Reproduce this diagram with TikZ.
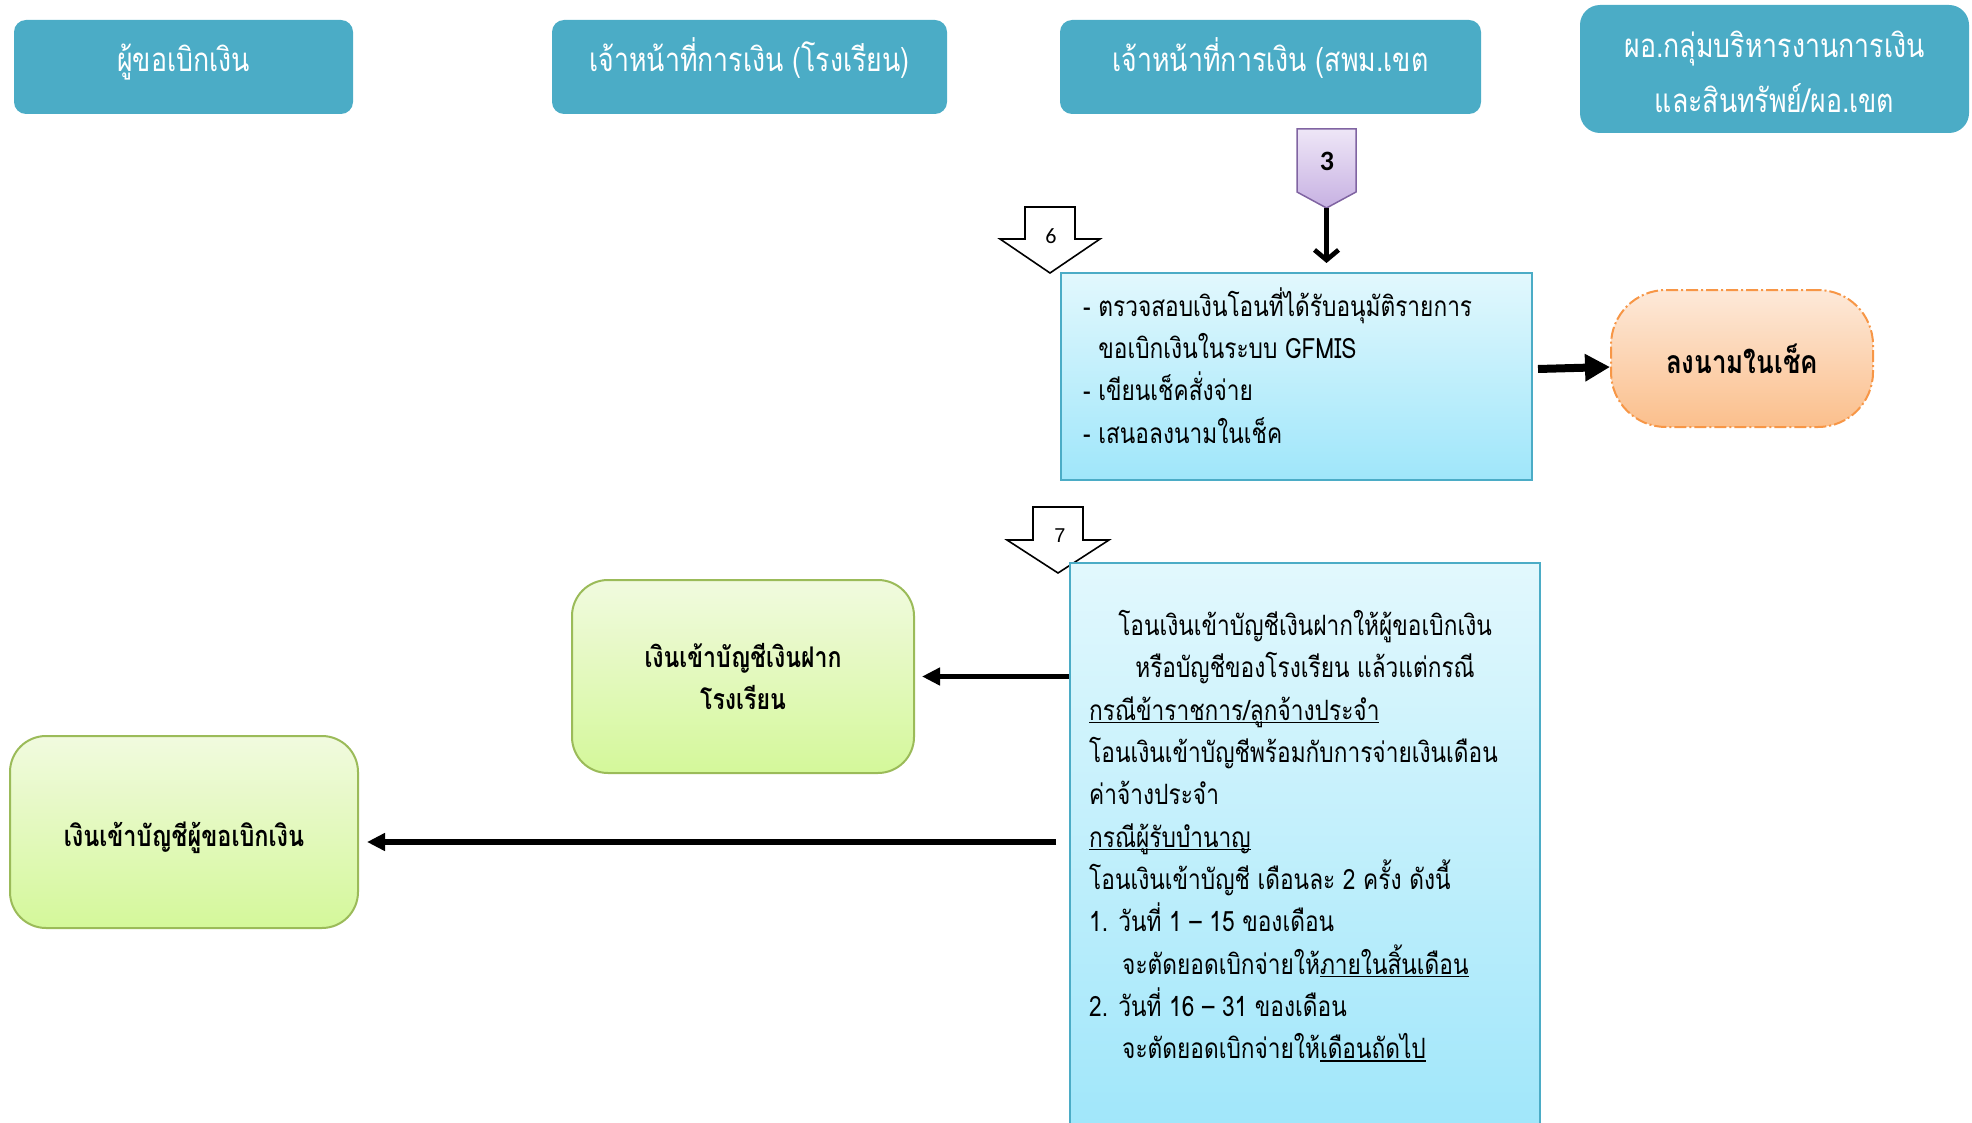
\documentclass[tikz,border=0pt]{standalone}
\usepackage{fontspec}
\usetikzlibrary{arrows.meta}
\newfontfamily\thai[Script=Thai,FakeStretch=0.81]{Loma}
\newfontfamily\numfont{Carlito}
\newfontfamily\arialfont{Liberation Sans}
\definecolor{hdr}{HTML}{4BACC6}
\definecolor{bluetop}{HTML}{E2F8FD}
\definecolor{bluebot}{HTML}{9FE6FA}
\definecolor{bluebd}{HTML}{4BACC6}
\definecolor{orgtop}{HTML}{FDE9D9}
\definecolor{orgbot}{HTML}{FBBF8C}
\definecolor{orgbd}{HTML}{F79646}
\definecolor{grntop}{HTML}{F1FADF}
\definecolor{grnbot}{HTML}{D4F89A}
\definecolor{grnbd}{HTML}{9BBB59}
\definecolor{lavtop}{HTML}{EEE6F7}
\definecolor{lavbot}{HTML}{C7B1E2}
\definecolor{lavbd}{HTML}{8064A2}
\newcommand\thaiul[1]{\setbox0=\hbox{#1}\rlap{\rule[-3pt]{\wd0}{1.4pt}}\box0}
\newcommand\tstrut{\rule{0pt}{30pt}}
\begin{document}
\begin{tikzpicture}[x=1pt,y=-1pt,
  hdrbox/.style={fill=hdr, rounded corners=12pt, minimum height=94pt, inner sep=0pt,
    text=white, font=\thai\fontsize{33}{40}\selectfont, text height=16pt, text depth=6pt},
  bluebox/.style={draw=bluebd, line width=2pt, top color=bluetop, bottom color=bluebot, inner sep=0pt},
  grnbox/.style={draw=grnbd, line width=2pt, top color=grntop, bottom color=grnbot, inner sep=0pt, rounded corners=36pt},
  orgbox/.style={draw=orgbd, line width=2pt, top color=orgtop, bottom color=orgbot, inner sep=0pt,
    rounded corners=55pt, dash pattern=on 12pt off 3pt on 2pt off 3pt},
  bodytext/.style={inner sep=0pt, font=\thai\fontsize{28}{42.3}\selectfont, text=black},
  boldtext/.style={inner sep=0pt, font=\thai\bfseries\fontsize{28.5}{42}\selectfont, text=black},
  blockarrow/.style={fill=white, draw=black, line width=1.6pt, line join=miter},
  flowarrow/.style={draw=black, line width=5.5pt, -{Triangle[length=18pt,width=17pt]}},
]
\useasboundingbox (0,0) rectangle (1972,1123);
\clip (0,0) rectangle (1972,1123);

% headers
\node[hdrbox, minimum width=339pt] (h1) at (183.5,67) {ผู้ขอเบิกเงิน};
\node[hdrbox, minimum width=395pt] (h2) at (749.5,67) {เจ้าหน้าที่การเงิน (โรงเรียน)};
\node[hdrbox, minimum width=421pt] (h3) at (1270.5,67) {เจ้าหน้าที่การเงิน (สพม.เขต};
\node[hdrbox, minimum width=389pt, minimum height=128pt, rounded corners=20pt, text height=, text depth=] (h4) at (1774.5,69) {};
\node[inner sep=0pt, anchor=north, align=center, text=white, font=\thai\fontsize{33}{55}\selectfont] (h4t) at (1774.5,27)
  {\tstrut ผอ.กลุ่มบริหารงานการเงิน\\และสินทรัพย์/ผอ.เขต};

% step 3 marker
\path[draw=lavbd, line width=1.5pt, top color=lavtop, bottom color=lavbot]
  (1297,129) -- (1356,129) -- (1356,192) -- (1326.5,208) -- (1297,192) -- cycle;
\node[inner sep=0pt, font=\numfont\bfseries\fontsize{28}{30}\selectfont] (n3) at (1327,161) {3};
\coordinate (p3tip) at (1326.5,208);

% block arrow 6
\path[blockarrow] (1025,207) -- (1075,207) -- (1075,239) -- (1100,239) -- (1050,273) -- (1000,239) -- (1025,239) -- cycle;
\node[inner sep=0pt, font=\numfont\fontsize{22}{24}\selectfont] (n6) at (1051,236) {6};

% box A
\node[bluebox, minimum width=471pt, minimum height=207pt] (boxA) at (1296.5,376.5) {};
\node[bodytext, anchor=north west, align=left] (boxAt) at (1083,286)
  {\tstrut - ตรวจสอบเงินโอนที่ได้รับอนุมัติรายการ\\
   \phantom{- }ขอเบิกเงินในระบบ GFMIS\\
   - เขียนเช็คสั่งจ่าย\\
   - เสนอลงนามในเช็ค};

\draw[line width=4.7pt, -{Straight Barb[length=10pt,width=24pt]}, shorten >=9pt] (p3tip) -- (p3tip |- boxA.north);

% sign cheque
\node[orgbox, minimum width=262pt, minimum height=137pt] (org) at (1742,358.5) {};
\node[boldtext, anchor=base, font=\thai\bfseries\fontsize{32}{34}\selectfont] (orgt) at (1742,373) {ลงนามในเช็ค};
\draw[line width=8pt, -{Triangle[length=25pt,width=26pt]}] ([xshift=5pt,yshift=7.5pt]boxA.east) -- ([yshift=-8.5pt]org.west);

% block arrow 7
\path[blockarrow] (1033,507) -- (1083,507) -- (1083,540) -- (1109,540) -- (1058,573) -- (1007,540) -- (1033,540) -- cycle;
\node[inner sep=0pt, font=\arialfont\fontsize{20}{22}\selectfont] (n7) at (1060,536) {7};

% box B
\node[bluebox, minimum width=470pt, minimum height=577pt] (boxB) at (1305,851.5) {};
\node[bodytext, anchor=north, align=center] (boxBt1) at (1305,605)
  {\tstrut โอนเงินเข้าบัญชีเงินฝากให้ผู้ขอเบิกเงิน\\
   หรือบัญชีของโรงเรียน แล้วแต่กรณี};
\node[bodytext, anchor=north west, align=left] (boxBt2) at (1089,690)
  {\tstrut\thaiul{กรณีข้าราชการ/ลูกจ้างประจำ}\\
   โอนเงินเข้าบัญชีพร้อมกับการจ่ายเงินเดือน\\
   ค่าจ้างประจำ\\
   \thaiul{กรณีผู้รับบำนาญ}\\
   โอนเงินเข้าบัญชี เดือนละ 2 ครั้ง ดังนี้\\
   1. วันที่ 1 – 15 ของเดือน\\
   \hspace*{33pt}จะตัดยอดเบิกจ่ายให้\thaiul{ภายในสิ้นเดือน}\\
   2. วันที่ 16 – 31 ของเดือน\\
   \hspace*{33pt}จะตัดยอดเบิกจ่ายให้\thaiul{เดือนถัดไป}};

% green boxes
\node[grnbox, minimum width=342pt, minimum height=193pt] (g1) at (743,676.5) {};
\node[boldtext, anchor=north, align=center] (g1t) at (743,637)
  {\tstrut เงินเข้าบัญชีเงินฝาก\\โรงเรียน};
\node[grnbox, minimum width=348pt, minimum height=192pt] (g2) at (184,832) {};
\node[boldtext, anchor=base, font=\thai\bfseries\fontsize{29}{42}\selectfont] (g2t) at (184,846) {เงินเข้าบัญชีผู้ขอเบิกเงิน};

\coordinate (b2start) at (1056,842);
\draw[flowarrow, shorten >=7pt] (boxB.west |- g1.east) -- (g1.east);
\draw[flowarrow, shorten >=8pt] (b2start) -- (b2start -| g2.east);
\end{tikzpicture}
\end{document}
